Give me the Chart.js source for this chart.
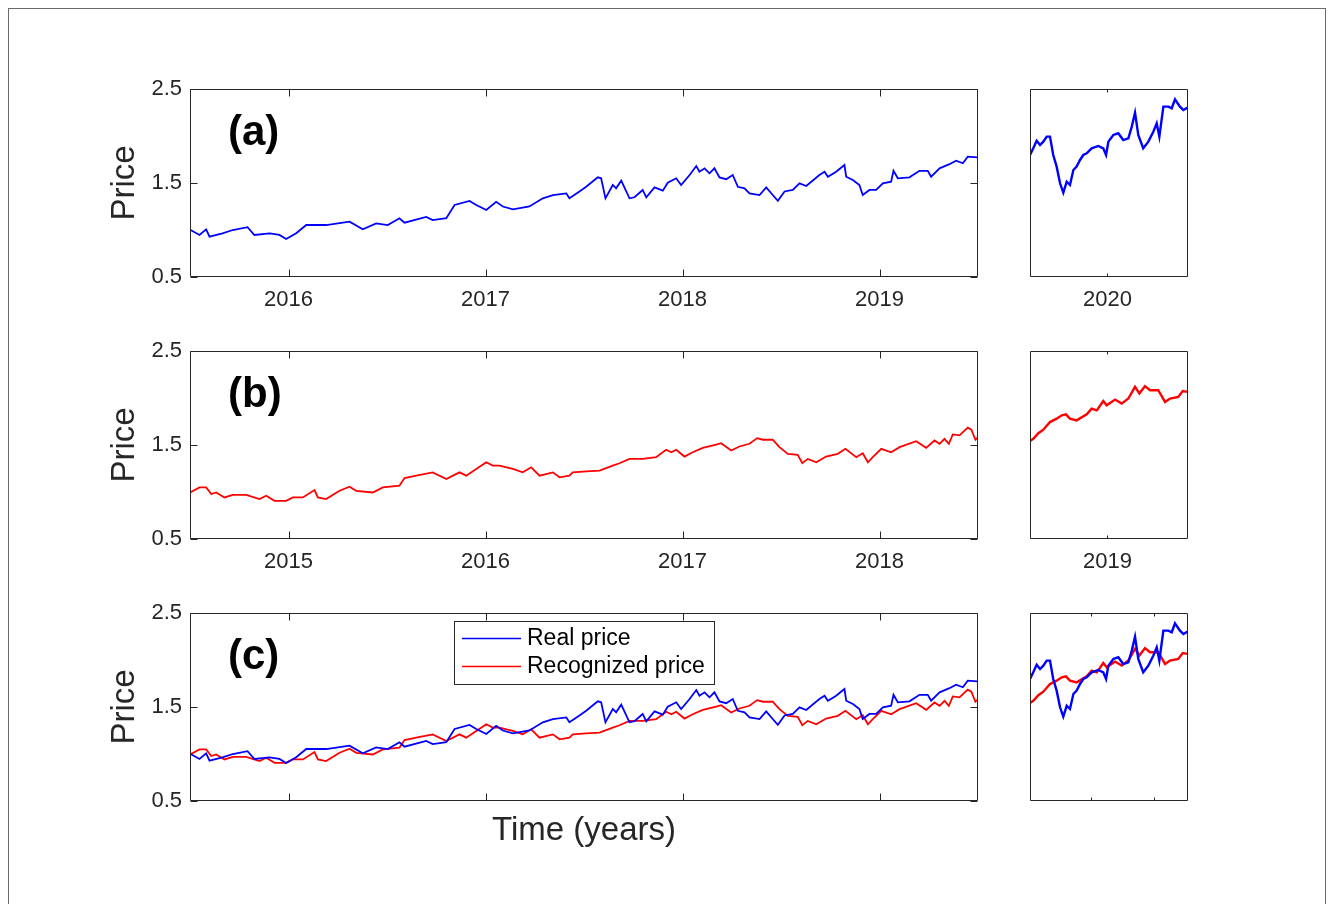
<!DOCTYPE html>
<html>
<head>
<meta charset="utf-8">
<title>Real and recognized price</title>
<script src="https://cdn.jsdelivr.net/npm/chart.js@4.4.1/dist/chart.umd.min.js"></script>
<style>
  html, body { margin: 0; padding: 0; background: #ffffff; }
  body { width: 1330px; height: 904px; position: relative; overflow: hidden; }
  .frame { position: absolute; left: 8px; top: 8px; width: 1318px; height: 1000px;
           border: 1px solid #6a6a6a; box-sizing: border-box; }
  canvas { position: absolute; }
</style>
</head>
<body>
<div class="frame"></div>
<canvas id="aMain" width="1000" height="270" style="left:0;top:59px;width:1000px;height:270px"></canvas>
<canvas id="aZoom" width="200" height="270" style="left:1000px;top:59px;width:200px;height:270px"></canvas>
<canvas id="bMain" width="1000" height="270" style="left:0;top:321px;width:1000px;height:270px"></canvas>
<canvas id="bZoom" width="200" height="270" style="left:1000px;top:321px;width:200px;height:270px"></canvas>
<canvas id="cMain" width="1000" height="290" style="left:0;top:583px;width:1000px;height:290px"></canvas>
<canvas id="cZoom" width="200" height="270" style="left:1000px;top:583px;width:200px;height:270px"></canvas>
<script>
// ---- Real price (decimal years / price) ----
const realDates = [2015.503,2015.548,2015.582,2015.599,2015.665,2015.717,2015.792,2015.827,2015.904,2015.954,2015.988,2016.039,2016.090,2016.191,2016.310,2016.377,2016.445,2016.504,2016.563,2016.589,2016.699,2016.732,2016.801,2016.843,2016.919,2016.953,2017.004,2017.054,2017.088,2017.139,2017.223,2017.291,2017.342,2017.410,2017.426,2017.477,2017.511,2017.570,2017.587,2017.609,2017.646,2017.663,2017.689,2017.731,2017.756,2017.798,2017.816,2017.858,2017.900,2017.925,2017.968,2017.993,2018.036,2018.070,2018.086,2018.112,2018.137,2018.162,2018.188,2018.222,2018.255,2018.281,2018.315,2018.340,2018.391,2018.425,2018.458,2018.484,2018.518,2018.560,2018.594,2018.628,2018.695,2018.721,2018.738,2018.780,2018.822,2018.831,2018.865,2018.898,2018.915,2018.949,2018.983,2019.017,2019.059,2019.071,2019.093,2019.152,2019.203,2019.245,2019.262,2019.305,2019.355,2019.389,2019.423,2019.448,2019.497];
const realPrices = [1.00,0.947,1.007,0.93,0.965,1.0,1.03,0.947,0.965,0.947,0.904,0.965,1.053,1.053,1.088,1.007,1.07,1.053,1.125,1.078,1.14,1.106,1.125,1.266,1.31,1.266,1.213,1.30,1.25,1.22,1.25,1.337,1.372,1.39,1.337,1.41,1.46,1.56,1.55,1.337,1.479,1.444,1.525,1.337,1.348,1.426,1.348,1.454,1.418,1.503,1.55,1.479,1.585,1.68,1.62,1.656,1.603,1.656,1.56,1.54,1.585,1.46,1.444,1.39,1.372,1.454,1.372,1.31,1.41,1.426,1.496,1.468,1.585,1.62,1.567,1.62,1.691,1.567,1.532,1.479,1.372,1.426,1.426,1.496,1.514,1.63,1.55,1.56,1.63,1.63,1.567,1.656,1.70,1.737,1.71,1.78,1.773];
const realZoomDates = [2019.500,2019.521,2019.543,2019.565,2019.586,2019.608,2019.629,2019.650,2019.672,2019.694,2019.715,2019.737,2019.758,2019.780,2019.801,2019.823,2019.844,2019.866,2019.898,2019.941,2019.973,2019.991,2020.006,2020.038,2020.070,2020.102,2020.135,2020.157,2020.178,2020.199,2020.231,2020.264,2020.296,2020.318,2020.335,2020.361,2020.393,2020.415,2020.436,2020.468,2020.490,2020.520];
const realZoomPrices = [1.798,1.869,1.95,1.904,1.94,1.993,1.993,1.798,1.674,1.497,1.397,1.514,1.479,1.638,1.674,1.745,1.798,1.816,1.869,1.894,1.869,1.798,1.94,2.011,2.029,1.957,1.975,2.10,2.248,2.011,1.869,1.94,2.046,2.135,1.993,2.312,2.312,2.295,2.39,2.312,2.277,2.305];

// ---- Recognized price ----
const recogDates = [2014.501,2014.548,2014.582,2014.608,2014.633,2014.675,2014.717,2014.785,2014.853,2014.887,2014.929,2014.988,2015.022,2015.073,2015.132,2015.149,2015.191,2015.259,2015.310,2015.344,2015.428,2015.479,2015.563,2015.589,2015.648,2015.732,2015.801,2015.868,2015.902,2015.953,2016.004,2016.037,2016.071,2016.139,2016.189,2016.232,2016.274,2016.342,2016.376,2016.426,2016.443,2016.511,2016.579,2016.646,2016.680,2016.731,2016.798,2016.866,2016.917,2016.943,2016.968,2017.010,2017.052,2017.103,2017.171,2017.196,2017.247,2017.289,2017.340,2017.379,2017.408,2017.458,2017.492,2017.535,2017.585,2017.608,2017.636,2017.679,2017.729,2017.788,2017.827,2017.882,2017.915,2017.941,2017.966,2018.009,2018.059,2018.102,2018.186,2018.237,2018.279,2018.305,2018.330,2018.352,2018.372,2018.406,2018.448,2018.466,2018.487,2018.497];
const recogPrices = [0.995,1.049,1.049,0.978,0.995,0.942,0.97,0.97,0.925,0.96,0.906,0.906,0.942,0.942,1.021,0.942,0.925,1.013,1.056,1.013,0.995,1.049,1.067,1.149,1.174,1.209,1.138,1.209,1.174,1.245,1.316,1.281,1.281,1.245,1.209,1.263,1.174,1.209,1.156,1.174,1.209,1.22,1.227,1.281,1.306,1.352,1.352,1.37,1.449,1.423,1.449,1.377,1.423,1.47,1.505,1.519,1.441,1.484,1.513,1.573,1.556,1.556,1.477,1.406,1.395,1.306,1.352,1.316,1.377,1.406,1.459,1.37,1.412,1.316,1.37,1.459,1.423,1.477,1.541,1.47,1.548,1.513,1.566,1.513,1.612,1.602,1.684,1.663,1.556,1.577];
const recogZoomDates = [2018.500,2018.521,2018.554,2018.586,2018.629,2018.672,2018.705,2018.732,2018.758,2018.801,2018.866,2018.898,2018.931,2018.973,2018.995,2019.049,2019.092,2019.135,2019.178,2019.206,2019.242,2019.275,2019.328,2019.372,2019.404,2019.457,2019.486,2019.520];
const recogZoomPrices = [1.541,1.566,1.626,1.663,1.744,1.78,1.816,1.826,1.78,1.762,1.826,1.887,1.869,1.968,1.922,1.983,1.94,1.994,2.118,2.048,2.126,2.083,2.083,1.958,1.994,2.011,2.075,2.065];

// ---- Axis ticks ----
const priceTicks = [0.5, 1.5, 2.5];
const realYearTicks = [2016, 2017, 2018, 2019];
const realZoomTicks = [2020];
const recogYearTicks = [2015, 2016, 2017, 2018];
const recogZoomTicks = [2019];
const compareZoomTicks = [2019.894, 2020.3];

// the recognized series is laid over the real-price timeline in panel (c)
const recogOnRealDates = recogDates.map(d => d + 1);
const recogZoomOnRealDates = recogZoomDates.map(d => d + 1);

const FONT = "'Liberation Sans', Arial, Helvetica, sans-serif";
const AXIS = '#262626';
const BLUE = '#0000ff';
const RED = '#ff0000';

// Closed axes box with inward tick marks on all four sides
const boxPlugin = {
  id: 'matlabBox',
  afterDatasetsDraw(chart, args, opts) {
    const { ctx, chartArea: a, scales: { x, y } } = chart;
    const L = Math.round(a.left) + 0.5, R = Math.round(a.right) - 0.5;
    const T = Math.round(a.top) + 0.5, B = Math.round(a.bottom) - 0.5;
    const len = opts.tickLength;
    ctx.save();
    ctx.strokeStyle = opts.color;
    ctx.lineWidth = 1;
    ctx.beginPath();
    ctx.rect(L, T, R - L, B - T);
    x.ticks.forEach(t => {
      const px = Math.round(x.getPixelForValue(t.value)) + 0.5;
      ctx.moveTo(px, B); ctx.lineTo(px, B - len);
      ctx.moveTo(px, T); ctx.lineTo(px, T + len);
    });
    if (opts.yTicks) {
      y.ticks.forEach(t => {
        const py = Math.round(y.getPixelForValue(t.value)) + 0.5;
        ctx.moveTo(L, py); ctx.lineTo(L + len, py);
        ctx.moveTo(R, py); ctx.lineTo(R - len, py);
      });
    }
    ctx.stroke();
    ctx.restore();
  }
};

// Bold panel letter in the upper-left of the axes
const tagPlugin = {
  id: 'panelTag',
  afterDraw(chart, args, opts) {
    if (!opts.text) return;
    const { ctx, chartArea: a } = chart;
    ctx.save();
    ctx.font = `bold ${opts.size}px ${FONT}`;
    ctx.fillStyle = '#000';
    ctx.textAlign = 'left';
    ctx.textBaseline = 'middle';
    ctx.fillText(opts.text, a.left + opts.dx, a.top + opts.dy);
    ctx.restore();
  }
};

// Boxed legend placed inside the axes, built from the datasets
const legendPlugin = {
  id: 'legendBox',
  afterDraw(chart, args, opts) {
    if (!opts.show) return;
    const { ctx, chartArea: a } = chart;
    const items = chart.data.datasets;
    ctx.save();
    ctx.font = `${opts.size}px ${FONT}`;
    const textW = Math.max(...items.map(d => ctx.measureText(d.label).width));
    const x0 = Math.round(a.left + opts.dx), y0 = Math.round(a.top + opts.dy);
    const w = Math.round(opts.textOffset + textW + opts.padRight);
    const h = Math.round(opts.rowHeight * items.length + opts.padY * 2);
    ctx.fillStyle = '#fff';
    ctx.fillRect(x0, y0, w, h);
    ctx.strokeStyle = AXIS;
    ctx.lineWidth = 1;
    ctx.strokeRect(x0 + 0.5, y0 + 0.5, w, h);
    items.forEach((d, i) => {
      const cy = y0 + opts.padY + opts.rowHeight * (i + 0.5);
      ctx.strokeStyle = d.borderColor;
      ctx.lineWidth = 1.5;
      ctx.beginPath();
      ctx.moveTo(x0 + 8, cy);
      ctx.lineTo(x0 + 67, cy);
      ctx.stroke();
      ctx.fillStyle = '#000';
      ctx.textAlign = 'left';
      ctx.textBaseline = 'middle';
      ctx.fillText(d.label, x0 + opts.textOffset, cy);
    });
    ctx.restore();
  }
};

function panel(id, o) {
  const yScale = {
    display: o.showY,
    min: 0.5,
    max: 2.5,
    grid: { display: false, drawTicks: false },
    border: { display: false },
    afterBuildTicks: s => { s.ticks = priceTicks.map(v => ({ value: v })); },
    ticks: {
      padding: 8,
      color: AXIS,
      font: { family: FONT, size: 22 },
      callback: v => v.toFixed(1)
    },
    title: { display: true, text: 'Price', color: AXIS, font: { family: FONT, size: 33 }, padding: { top: 5, bottom: 0 } }
  };
  if (o.showY) yScale.afterFit = s => { s.width = 90; };

  return new Chart(document.getElementById(id), {
    type: 'line',
    data: {
      datasets: o.series.map(s => ({
        label: s.label,
        data: s.xs.map((v, i) => ({ x: v, y: s.ys[i] })),
        borderColor: s.color,
        borderWidth: o.lineWidth,
        pointRadius: 0,
        tension: 0,
        fill: false
      }))
    },
    options: {
      responsive: false,
      animation: false,
      devicePixelRatio: 1,
      events: [],
      layout: { padding: o.padding },
      plugins: {
        legend: { display: false },
        tooltip: { enabled: false },
        matlabBox: { color: AXIS, tickLength: o.tickLength, yTicks: o.showY },
        panelTag: { text: o.tag, size: 42, dx: 38, dy: 44 },
        legendBox: o.legend || { show: false }
      },
      scales: {
        x: {
          type: 'linear',
          min: o.xRange[0],
          max: o.xRange[1],
          grid: { display: false, drawTicks: false },
          border: { display: false },
          afterBuildTicks: s => { s.ticks = o.xTicks.map(v => ({ value: v })); },
          ticks: {
            display: o.xLabels,
            padding: 10,
            color: AXIS,
            maxRotation: 0,
            autoSkip: false,
            font: { family: FONT, size: 22 },
            callback: v => String(v)
          },
          title: o.xTitle
            ? { display: true, text: o.xTitle, color: AXIS, font: { family: FONT, size: 33 }, padding: { top: 0, bottom: 22 } }
            : { display: false },
          afterFit: s => { s.height = o.xHeight; }
        },
        y: yScale
      }
    },
    plugins: [boxPlugin, tagPlugin, legendPlugin]
  });
}

const mainPad = { left: 100, right: 22, top: 30, bottom: 0 };
const zoomPad = { left: 30, right: 12, top: 30, bottom: 0 };

// (a) real price
panel('aMain', {
  series: [{ label: 'Real price', xs: realDates, ys: realPrices, color: BLUE }],
  xRange: [2015.5, 2019.5], xTicks: realYearTicks, xLabels: true, xHeight: 52,
  showY: true, padding: mainPad, tickLength: 7, lineWidth: 1.8, tag: '(a)'
});
panel('aZoom', {
  series: [{ label: 'Real price', xs: realZoomDates, ys: realZoomPrices, color: BLUE }],
  xRange: [2019.5, 2020.52], xTicks: realZoomTicks, xLabels: true, xHeight: 52,
  showY: false, padding: zoomPad, tickLength: 3, lineWidth: 2.4
});

// (b) recognized price
panel('bMain', {
  series: [{ label: 'Recognized price', xs: recogDates, ys: recogPrices, color: RED }],
  xRange: [2014.5, 2018.5], xTicks: recogYearTicks, xLabels: true, xHeight: 52,
  showY: true, padding: mainPad, tickLength: 7, lineWidth: 1.8, tag: '(b)'
});
panel('bZoom', {
  series: [{ label: 'Recognized price', xs: recogZoomDates, ys: recogZoomPrices, color: RED }],
  xRange: [2018.5, 2019.52], xTicks: recogZoomTicks, xLabels: true, xHeight: 52,
  showY: false, padding: zoomPad, tickLength: 3, lineWidth: 2.4
});

// (c) both series on the same timeline
panel('cMain', {
  series: [
    { label: 'Real price', xs: realDates, ys: realPrices, color: BLUE },
    { label: 'Recognized price', xs: recogOnRealDates, ys: recogPrices, color: RED }
  ],
  xRange: [2015.5, 2019.5], xTicks: realYearTicks, xLabels: false, xHeight: 72,
  xTitle: 'Time (years)',
  showY: true, padding: mainPad, tickLength: 7, lineWidth: 1.8, tag: '(c)',
  legend: { show: true, size: 23, dx: 264, dy: 8, textOffset: 73, padRight: 9, rowHeight: 28, padY: 3.5 }
});
panel('cZoom', {
  series: [
    { label: 'Real price', xs: realZoomDates, ys: realZoomPrices, color: BLUE },
    { label: 'Recognized price', xs: recogZoomOnRealDates, ys: recogZoomPrices, color: RED }
  ],
  xRange: [2019.5, 2020.52], xTicks: compareZoomTicks, xLabels: false, xHeight: 52,
  showY: false, padding: zoomPad, tickLength: 3, lineWidth: 2.4
});
</script>
</body>
</html>
